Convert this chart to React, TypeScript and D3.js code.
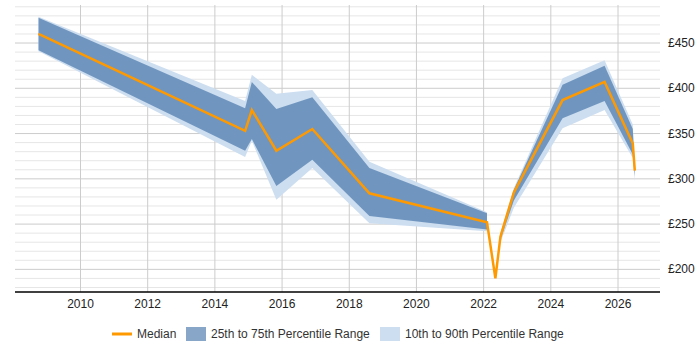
import React from "react";
import { scaleLinear, line, area, range } from "d3";

// data
const years = [2008.75, 2014.9, 2015.1, 2015.83, 2016.9, 2018.6, 2022.1, 2022.35, 2022.5, 2022.9, 2024.35, 2025.6, 2026.44, 2026.5];
const median = [460, 353, 376, 331, 355, 284, 252, 190, 236, 285, 387, 407, 339, 309];
const p25 = [442, 331, 344, 292, 321, 259, 244, null, 233, 276, 367, 386, 327, 303];
const p75 = [478, 378, 407, 377, 390, 312, 262, null, 239, 288, 404, 425, 355, 311];
const p10 = [441, 324, 342, 277, 312, 251, 242, null, 230, 268, 356, 376, 323, 297];
const p90 = [479, 386, 415, 394, 398, 319, 263, null, 241, 290, 411, 431, 360, 312];

const xTicks = [2010, 2012, 2014, 2016, 2018, 2020, 2022, 2024, 2026];
const yTicks = [200, 250, 300, 350, 400, 450];

const FONT = "'Liberation Sans', Arial, sans-serif";

export default function App() {
  const width = 700;
  const height = 350;
  const left = 15, right = 660, top = 5, bottom = 292;

  const x = scaleLinear().domain([2008.05, 2027.25]).range([left, right]);
  const y = scaleLinear().domain([175, 492]).range([bottom, top]);

  const rows = years.map((yr, i) => ({
    yr, med: median[i], p10: p10[i], p25: p25[i], p75: p75[i], p90: p90[i]
  }));

  const outer = area<any>()
    .defined(d => d.p10 != null)
    .x(d => x(d.yr))
    .y0(d => y(d.p10))
    .y1(d => y(d.p90));
  const inner = area<any>()
    .defined(d => d.p25 != null)
    .x(d => x(d.yr))
    .y0(d => y(d.p25))
    .y1(d => y(d.p75));
  const medLine = line<any>().x(d => x(d.yr)).y(d => y(d.med));

  const minor = range(180, 491, 10).filter(v => v % 50 !== 0);

  return (
    <svg width={width} height={height} style={{ position: "absolute", left: 0, top: 0, background: "#fff" }}>
      {/* grid */}
      {minor.map(v => (
        <line key={"m" + v} x1={left} x2={right} y1={y(v)} y2={y(v)} stroke="#e6e6e6" strokeWidth={1} />
      ))}
      {yTicks.map(v => (
        <line key={"g" + v} x1={left} x2={right} y1={y(v)} y2={y(v)} stroke="#cccccc" strokeWidth={1} />
      ))}
      {xTicks.map(v => (
        <line key={"v" + v} x1={x(v)} x2={x(v)} y1={top} y2={bottom} stroke="#cccccc" strokeWidth={1} />
      ))}

      {/* bands */}
      <path d={outer(rows) || ""} fill="#cddef0" />
      <path d={inner(rows) || ""} fill="#7096c0" />
      <path d={medLine(rows) || ""} fill="none" stroke="#ff9900" strokeWidth={2.5} strokeLinejoin="miter" />

      {/* axes */}
      <line x1={left} x2={right} y1={bottom} y2={bottom} stroke="#000" strokeWidth={1.5} />
      {xTicks.map(v => (
        <text key={"xt" + v} x={x(v)} y={bottom + 16} textAnchor="middle" fontFamily={FONT} fontSize={12} fill="#222">
          {v}
        </text>
      ))}
      {yTicks.map(v => (
        <text key={"yt" + v} x={668} y={y(v) + 4} fontFamily={FONT} fontSize={12} fill="#222">
          {"£" + v}
        </text>
      ))}

      {/* legend */}
      <g fontFamily={FONT} fontSize={12} fill="#333">
        <line x1={112} x2={132} y1={334} y2={334} stroke="#ff9900" strokeWidth={3} />
        <text x={137} y={338}>Median</text>
        <rect x={186} y={327} width={20} height={14} fill="#87a6c8" />
        <text x={211} y={338}>25th to 75th Percentile Range</text>
        <rect x={380} y={327} width={20} height={14} fill="#cddef0" />
        <text x={405} y={338}>10th to 90th Percentile Range</text>
      </g>
    </svg>
  );
}
